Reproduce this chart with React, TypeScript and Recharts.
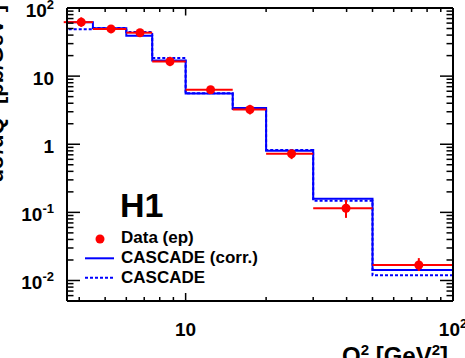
import React from 'react';
import { ComposedChart, Line, Scatter, ErrorBar, XAxis, YAxis, Customized } from 'recharts';

// ---- data ----
const binEdges = [3.5, 4.5, 6, 7.5, 10, 15, 20, 30, 50, 100];
const cascadeCorr = [61.8, 50.4, 39.3, 16.9, 5.56, 3.4, 0.805, 0.158, 0.0143];
const cascadePlain = [48.8, 51.0, 44.6, 18.4, 5.6, 3.28, 0.82, 0.148, 0.0119];
const dataQ2 = [4.07, 5.26, 6.75, 8.74, 12.4, 17.4, 24.9, 39.8, 74.5];
const dataValues = [62, 49.3, 43.4, 16.4, 6.3, 3.24, 0.725, 0.115, 0.0169];
const dataErrUp = [11, 6, 4.5, 2.8, 0.6, 0.55, 0.09, 0.037, 0.0044];
const dataErrDown = [9, 6.5, 5, 2.4, 0.6, 0.5, 0.12, 0.032, 0.0031];

const xTicks = [4, 5, 6, 7, 8, 9, 10, 20, 30, 40, 50, 60, 70, 80, 90, 100];
const yTicks = [
  0.006, 0.007, 0.008, 0.009, 0.01, 0.02, 0.03, 0.04, 0.05, 0.06, 0.07, 0.08, 0.09,
  0.1, 0.2, 0.3, 0.4, 0.5, 0.6, 0.7, 0.8, 0.9, 1, 2, 3, 4, 5, 6, 7, 8, 9,
  10, 20, 30, 40, 50, 60, 70, 80, 90, 100,
];
const xDomain = [3.6, 100];
const yDomain = [0.005, 100];

// ---- derived tables ----
const stepData = (vals: number[]) =>
  binEdges.map((e, i) => ({ x: e, y: vals[Math.min(i, vals.length - 1)] }));
const corrSteps = stepData(cascadeCorr);
const plainSteps = stepData(cascadePlain);
const points = dataQ2.map((q, i) => ({
  x: q,
  y: dataValues[i],
  xErr: [q - binEdges[i], binEdges[i + 1] - q],
  yErr: [dataErrDown[i], dataErrUp[i]],
}));

const FONT = '"Liberation Sans", Arial, Helvetica, sans-serif';
const RED = '#ff0000';
const BLUE = '#0000ff';

const isMajor = (v: number) => Math.abs(Math.log10(v) - Math.round(Math.log10(v))) < 1e-6;

function PowLabel({ x, y, v, anchor }: any) {
  const e = Math.round(Math.log10(v));
  const common = { x, y, textAnchor: anchor, fontFamily: FONT, fontWeight: 'bold', fontSize: 19, fill: '#000' };
  if (e === 0) return <text {...common}>1</text>;
  if (e === 1) return <text {...common}>10</text>;
  return (
    <text {...common}>
      10<tspan dy={-8} fontSize={13}>{e < 0 ? '-' + -e : String(e)}</tspan>
    </text>
  );
}

function LeftTick(props: any) {
  const { x, y, payload } = props;
  const major = isMajor(payload.value);
  return (
    <g>
      <line x1={x} x2={x + (major ? 13 : 6.5)} y1={y} y2={y} stroke="#000" strokeWidth={1.5} />
      {major && <PowLabel x={x - 13} y={y + 9} v={payload.value} anchor="end" />}
    </g>
  );
}
function RightTick(props: any) {
  const { x, y, payload } = props;
  const major = isMajor(payload.value);
  return <line x1={x} x2={x - (major ? 13 : 6.5)} y1={y} y2={y} stroke="#000" strokeWidth={1.5} />;
}
function BottomTick(props: any) {
  const { x, y, payload } = props;
  const major = isMajor(payload.value);
  return (
    <g>
      <line x1={x} x2={x} y1={y} y2={y - (major ? 8 : 4)} stroke="#000" strokeWidth={1.5} />
      {major && <PowLabel x={x} y={336} v={payload.value} anchor="middle" />}
    </g>
  );
}
function TopTick(props: any) {
  const { x, y, payload } = props;
  const major = isMajor(payload.value);
  return <line x1={x} x2={x} y1={y} y2={y + (major ? 7.5 : 4)} stroke="#000" strokeWidth={1.5} />;
}

function Annotations() {
  return (
    <g fontFamily={FONT} fontWeight="bold" fill="#000">
      <text x={120} y={216.5} fontSize={34}>H1</text>
      <circle cx={100} cy={239} r={4.5} fill={RED} />
      <text x={121} y={242.5} fontSize={17}>Data (ep)</text>
      <line x1={85} x2={114} y1={258.3} y2={258.3} stroke={BLUE} strokeWidth={2} />
      <text x={121} y={263} fontSize={17}>CASCADE (corr.)</text>
      <line x1={85} x2={114} y1={277.7} y2={277.7} stroke={BLUE} strokeWidth={2} strokeDasharray="3 2" />
      <text x={121} y={283.3} fontSize={17}>CASCADE</text>
      <text x={448} y={364} fontSize={24} textAnchor="end">
        Q<tspan dy={-9} fontSize={15}>2</tspan>
        <tspan dy={9}> [GeV</tspan>
        <tspan dy={-9} fontSize={15}>2</tspan>
        <tspan dy={9}>]</tspan>
      </text>
      <text x={2.5} y={5} fontSize={22} textAnchor="end" transform="rotate(-90, 2.5, 5)">
        dσ/dQ² [pb/GeV²]
      </text>
    </g>
  );
}

export default function App() {
  const axisLine = { stroke: '#000', strokeWidth: 2 };
  return (
    <div style={{ position: 'absolute', left: 0, top: 0, width: 465, height: 358, background: '#fff' }}>
      <ComposedChart width={465} height={358} margin={{ top: 0, right: 0, bottom: 0, left: 0 }}>
        <XAxis
          dataKey="x" type="number" scale="log" domain={xDomain} allowDataOverflow
          ticks={xTicks} interval={0} height={57} tickSize={0} tickMargin={0}
          tickLine={false} axisLine={axisLine} tick={<BottomTick />}
        />
        <XAxis
          xAxisId="top" orientation="top" dataKey="x" type="number" scale="log" domain={xDomain}
          allowDataOverflow ticks={xTicks} interval={0} height={8} tickSize={0} tickMargin={0}
          tickLine={false} axisLine={axisLine} tick={<TopTick />}
        />
        <YAxis
          type="number" scale="log" domain={yDomain} allowDataOverflow ticks={yTicks} interval={0}
          width={67} tickSize={0} tickMargin={0} tickLine={false} axisLine={axisLine} tick={<LeftTick />}
        />
        <YAxis
          yAxisId="right" orientation="right" type="number" scale="log" domain={yDomain} allowDataOverflow
          ticks={yTicks} interval={0} width={12} tickSize={0} tickMargin={0} tickLine={false}
          axisLine={axisLine} tick={<RightTick />}
        />
        <Line
          data={corrSteps} dataKey="y" type="stepAfter" stroke={BLUE} strokeWidth={2}
          dot={false} activeDot={false} isAnimationActive={false}
        />
        <Line
          data={plainSteps} dataKey="y" type="stepAfter" stroke={BLUE} strokeWidth={2}
          strokeDasharray="3 2" dot={false} activeDot={false} isAnimationActive={false}
        />
        <Scatter
          data={points} dataKey="y" isAnimationActive={false}
          shape={(p: any) => <circle cx={p.cx} cy={p.cy} r={4.5} fill={RED} />}
        >
          <ErrorBar dataKey="xErr" direction="x" width={0} stroke={RED} strokeWidth={2} isAnimationActive={false} />
          <ErrorBar dataKey="yErr" direction="y" width={0} stroke={RED} strokeWidth={2} isAnimationActive={false} />
        </Scatter>
        <Customized component={<Annotations />} />
      </ComposedChart>
    </div>
  );
}
